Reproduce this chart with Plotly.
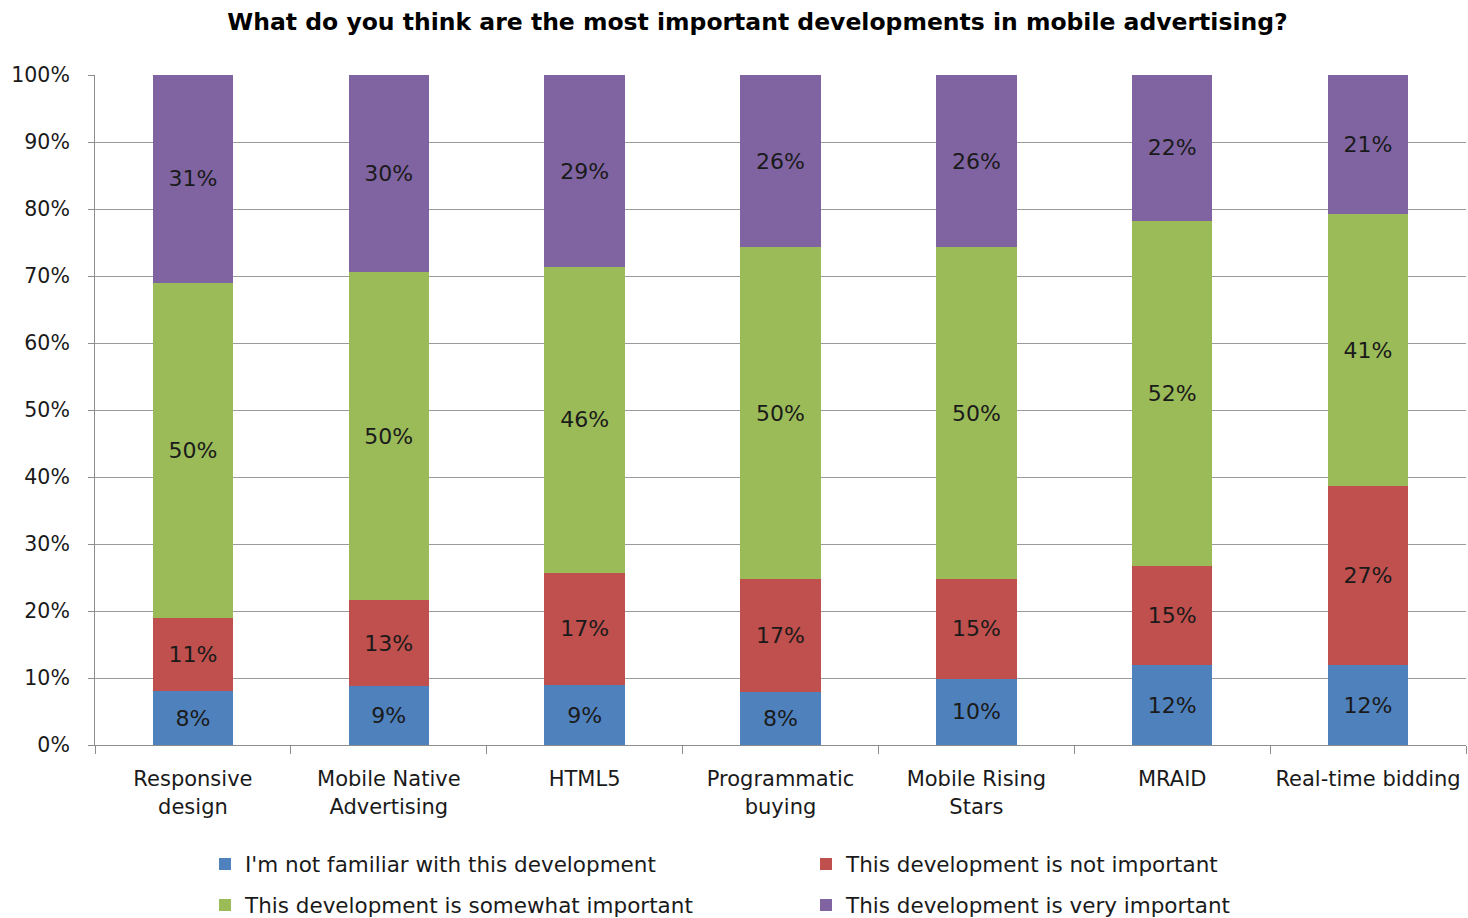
import plotly.graph_objects as go

# Survey answers per development (percent of respondents)
categories = [
    "Responsive<br>design",
    "Mobile Native<br>Advertising",
    "HTML5",
    "Programmatic<br>buying",
    "Mobile Rising<br>Stars",
    "MRAID",
    "Real-time bidding",
]
not_familiar = [8, 9, 9, 8, 10, 12, 12]
not_important = [11, 13, 17, 17, 15, 15, 27]
somewhat_important = [50, 50, 46, 50, 50, 52, 41]
very_important = [31, 30, 29, 26, 26, 22, 21]

series_names = [
    "I'm not familiar with this development",
    "This development is not important",
    "This development is somewhat important",
    "This development is very important",
]
series_values = [not_familiar, not_important, somewhat_important, very_important]
series_colors = ["#4F81BD", "#C0504D", "#9BBB59", "#8064A2"]
series_legend = ["legend", "legend", "legend2", "legend2"]

y_ticks = list(range(0, 101, 10))
y_tick_text = [f"{v}%" for v in y_ticks]

FONT = "DejaVu Sans"

fig = go.Figure()
for name, vals, color, leg in zip(series_names, series_values, series_colors, series_legend):
    fig.add_trace(go.Bar(
        x=categories,
        y=vals,
        name=name,
        marker=dict(color=color, line=dict(width=0)),
        text=[f"{v}%" for v in vals],
        textposition="inside",
        insidetextanchor="middle",
        textangle=0,
        textfont=dict(family=FONT, size=22, color="#1a1a1a"),
        legend=leg,
    ))

legend_common = dict(
    orientation="h",
    traceorder="normal",
    x=205 / 1468, xanchor="left", xref="container",
    yanchor="middle", yref="container",
    entrywidth=556, entrywidthmode="pixels",
    font=dict(family=FONT, size=21.5, color="#1a1a1a"),
    itemwidth=30,
    bgcolor="rgba(0,0,0,0)",
)

fig.update_layout(
    barmode="stack",
    barnorm="percent",
    bargap=0.59,
    width=1468,
    height=918,
    margin=dict(l=95, r=2, t=75, b=173, autoexpand=False),
    paper_bgcolor="white",
    plot_bgcolor="white",
    font=dict(family=FONT, size=20, color="#1a1a1a"),
    uniformtext=dict(minsize=22, mode="show"),
    title=dict(
        text="<b>What do you think are the most important developments in mobile advertising?</b>",
        x=0.516,
        xanchor="center",
        xref="container",
        y=1 - 22 / 918,
        yanchor="middle",
        yref="container",
        font=dict(family=FONT, size=23.5, color="#000000"),
    ),
    legend=dict(legend_common, y=1 - 864 / 918),
    legend2=dict(legend_common, y=1 - 905 / 918),
)

fig.update_xaxes(
    showline=True, linecolor="#8c8c8c", linewidth=1,
    ticks="outside", tickson="boundaries", ticklen=8, tickcolor="#8c8c8c",
    tickfont=dict(family=FONT, size=21, color="#1a1a1a"),
    tickangle=0,
    automargin=False,
    ticklabelstandoff=15,
    showgrid=False,
)
fig.update_yaxes(
    range=[0, 100],
    tickvals=y_ticks,
    ticktext=y_tick_text,
    showline=True, linecolor="#8c8c8c", linewidth=1,
    ticks="outside", ticklen=6, tickcolor="#8c8c8c",
    ticklabelstandoff=14,
    automargin=False,
    showgrid=True, gridcolor="#9a9a9a", gridwidth=1,
    tickfont=dict(family=FONT, size=20.5, color="#1a1a1a"),
    zeroline=False,
)

fig.write_html("out.html")
